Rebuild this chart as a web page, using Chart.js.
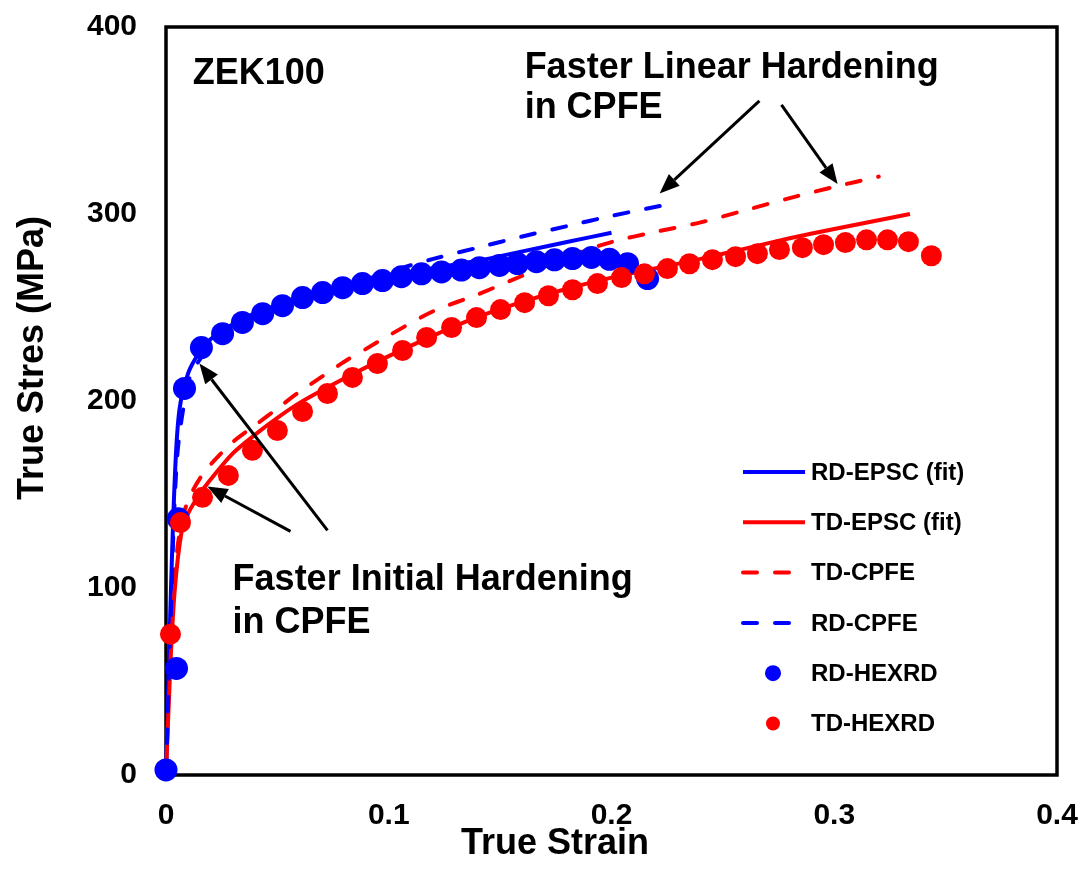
<!DOCTYPE html>
<html>
<head>
<meta charset="utf-8">
<script src="https://cdn.jsdelivr.net/npm/chart.js@4/dist/chart.umd.min.js"></script>
<style>
  body { margin: 0; background: #fff; }
  canvas { display: block; }
</style>
</head>
<body>
<canvas id="myChart" width="1084" height="887"></canvas>
<script>
const ctx = document.getElementById('myChart');

// HEXRD measurements
const rdHexrdStrain = [0, 0.0047, 0.0055, 0.0083, 0.0159, 0.0254, 0.0343, 0.0434, 0.0523, 0.0613, 0.0703, 0.0793, 0.0882, 0.0972, 0.1057, 0.1147, 0.1237, 0.1326, 0.1407, 0.1497, 0.1578, 0.1663, 0.1744, 0.1825, 0.191, 0.1991, 0.2072, 0.2162];
const rdHexrdStress = [2.7, 57, 137, 206.7, 228.6, 236, 242, 246.7, 251, 255.3, 258, 260.6, 262.8, 264.4, 266.5, 268, 269, 270, 271.3, 272.5, 273.5, 274.5, 275.5, 276.2, 276.8, 275.8, 273.4, 265.5];

const tdHexrdStrain = [0.002, 0.0065, 0.0164, 0.028, 0.0388, 0.05, 0.0613, 0.0725, 0.0837, 0.0949, 0.1062, 0.117, 0.1282, 0.1394, 0.1502, 0.161, 0.1717, 0.1825, 0.1937, 0.2045, 0.2148, 0.2251, 0.235, 0.2453, 0.2557, 0.2655, 0.2754, 0.2857, 0.2952, 0.305, 0.3145, 0.3239, 0.3333, 0.3436];
const tdHexrdStress = [75.3, 135, 148.5, 160.2, 173.6, 184.2, 194.4, 204, 212.6, 220, 227, 234, 239.3, 244.6, 248.9, 252.6, 256.3, 259.5, 262.8, 266, 268, 270.8, 273.4, 275.6, 277.2, 278.8, 281, 282, 283.6, 284.7, 286.2, 286.2, 285.2, 277.7];

// EPSC fits
const rdEpscStrain = [0, 0.002, 0.004, 0.006, 0.01, 0.015, 0.02, 0.03, 0.04, 0.05, 0.06, 0.08, 0.1, 0.12, 0.14, 0.16, 0.18, 0.2];
const rdEpscStress = [0, 90, 160, 195, 215, 226, 233, 241, 247, 251, 255, 261, 266, 271, 275, 280, 285, 290];

const tdEpscStrain = [0, 0.002, 0.004, 0.007, 0.01, 0.015, 0.02, 0.03, 0.04, 0.05, 0.06, 0.08, 0.1, 0.12, 0.14, 0.16, 0.18, 0.2, 0.22, 0.24, 0.26, 0.28, 0.3, 0.334];
const tdEpscStress = [0, 60, 100, 130, 140, 150, 158, 172, 182, 191, 199, 212, 224, 235, 245, 253, 260, 266, 271, 276, 281.5, 287, 292, 300];

// CPFE
const tdCpfeStrain = [0, 0.002, 0.005, 0.008, 0.012, 0.016, 0.02, 0.03, 0.04, 0.05, 0.06, 0.07, 0.08, 0.09, 0.1, 0.12, 0.14, 0.16, 0.18, 0.2, 0.22, 0.24, 0.26, 0.28, 0.3, 0.32];
const tdCpfeStress = [0, 70, 120, 140, 152, 160, 166, 178, 187, 196, 205, 213, 221, 228, 235, 248, 257, 267, 277, 285, 290.5, 295.5, 302, 308.5, 314.5, 320];

const rdCpfeStrain = [0, 0.002, 0.005, 0.01, 0.014, 0.02, 0.03, 0.04, 0.05, 0.06, 0.08, 0.1, 0.12, 0.14, 0.16, 0.18, 0.2, 0.229];
const rdCpfeStress = [0, 80, 170, 210, 220, 229, 238, 245, 250, 254, 261, 269, 276, 282, 288, 293.5, 299, 306];

const xTicks = [0, 0.1, 0.2, 0.3, 0.4];
const yTicks = [0, 100, 200, 300, 400];

// annotations in data units
const notes = [
  { text: 'ZEK100', x: 0.012, y: 375 },
  { text: 'Faster Linear Hardening', x: 0.161, y: 378 },
  { text: 'in CPFE', x: 0.161, y: 356.5 },
  { text: 'Faster Initial Hardening', x: 0.0299, y: 104 },
  { text: 'in CPFE', x: 0.0299, y: 81.5 }
];
const arrows = [
  { x0: 0.2664, y0: 360.5, x1: 0.2216, y1: 311 },
  { x0: 0.2763, y0: 358.3, x1: 0.3015, y1: 316 },
  { x0: 0.0725, y0: 130.8, x1: 0.015, y1: 220 },
  { x0: 0.0559, y0: 130.3, x1: 0.0186, y1: 154.3 }
];

const FONT = '"Liberation Sans", Arial, sans-serif';
const BLUE = '#0000ff';
const RED = '#ff0000';

function pts(xs, ys) {
  return xs.map((x, i) => ({ x: x, y: ys[i] }));
}

function lineSet(label, xs, ys, color, dashed, order) {
  return {
    label: label,
    data: pts(xs, ys),
    showLine: true,
    borderColor: color,
    backgroundColor: color,
    borderWidth: 4,
    borderDash: dashed ? [14, 18] : [],
    borderCapStyle: dashed ? 'round' : 'butt',
    pointRadius: 0,
    tension: 0.3,
    clip: false,
    order: order
  };
}

function dotSet(label, xs, ys, color, r, order) {
  return {
    label: label,
    data: pts(xs, ys),
    showLine: false,
    backgroundColor: color,
    borderColor: color,
    borderWidth: 0,
    pointRadius: r,
    pointHoverRadius: r,
    clip: false,
    order: order
  };
}

var data = {
  datasets: [
    lineSet('RD-EPSC (fit)', rdEpscStrain, rdEpscStress, BLUE, false, 5),
    lineSet('TD-EPSC (fit)', tdEpscStrain, tdEpscStress, RED, false, 4),
    lineSet('TD-CPFE', tdCpfeStrain, tdCpfeStress, RED, true, 3),
    lineSet('RD-CPFE', rdCpfeStrain, rdCpfeStress, BLUE, true, 2),
    dotSet('RD-HEXRD', rdHexrdStrain, rdHexrdStress, BLUE, 11.5, 1),
    dotSet('TD-HEXRD', tdHexrdStrain, tdHexrdStress, RED, 10.5, 0)
  ]
};

// plot box, drawn under the data like in the original
const boxPlugin = {
  id: 'box',
  beforeDatasetsDraw(chart) {
    const a = chart.chartArea;
    const c = chart.ctx;
    c.save();
    c.strokeStyle = '#000';
    c.lineWidth = 3.5;
    c.strokeRect(a.left, a.top, a.right - a.left, a.bottom - a.top);
    c.restore();
  }
};

function drawArrow(c, x0, y0, x1, y1) {
  const ang = Math.atan2(y1 - y0, x1 - x0);
  const len = 20, half = 8;
  const bx = x1 - len * Math.cos(ang), by = y1 - len * Math.sin(ang);
  c.beginPath();
  c.moveTo(x0, y0);
  c.lineTo(bx, by);
  c.stroke();
  c.beginPath();
  c.moveTo(x1, y1);
  c.lineTo(bx + half * Math.sin(ang), by - half * Math.cos(ang));
  c.lineTo(bx - half * Math.sin(ang), by + half * Math.cos(ang));
  c.closePath();
  c.fill();
}

// text notes, arrows, axis titles and the legend
const notesPlugin = {
  id: 'notes',
  afterDraw(chart) {
    const c = chart.ctx;
    const xs = chart.scales.x, ys = chart.scales.y;
    c.save();
    c.fillStyle = '#000';
    c.strokeStyle = '#000';
    c.lineWidth = 3;

    c.font = 'bold 36px ' + FONT;
    c.textAlign = 'left';
    c.textBaseline = 'middle';
    notes.forEach(n => {
      c.fillText(n.text, xs.getPixelForValue(n.x), ys.getPixelForValue(n.y));
    });

    arrows.forEach(a => {
      drawArrow(c, xs.getPixelForValue(a.x0), ys.getPixelForValue(a.y0),
                   xs.getPixelForValue(a.x1), ys.getPixelForValue(a.y1));
    });

    // axis titles
    c.textAlign = 'center';
    c.fillText('True Strain', 555, 844);
    c.save();
    c.translate(33, 358);
    c.rotate(-Math.PI / 2);
    c.fillText('True Stres (MPa)', 0, 0);
    c.restore();

    // legend
    const lx = 741, lw = 64, tx = 811, ly0 = 472, step = 50.3;
    c.font = 'bold 24px ' + FONT;
    c.textAlign = 'left';
    chart.data.datasets.forEach((ds, i) => {
      const y = ly0 + i * step;
      if (ds.showLine) {
        c.save();
        c.strokeStyle = ds.borderColor;
        c.lineWidth = 4;
        c.lineCap = ds.borderCapStyle;
        c.setLineDash(ds.borderDash);
        c.beginPath();
        c.moveTo(lx + 2, y);
        c.lineTo(lx + lw, y);
        c.stroke();
        c.restore();
      } else {
        c.beginPath();
        c.fillStyle = ds.backgroundColor;
        c.arc(lx + 32, y, ds.pointRadius > 11 ? 8 : 7, 0, Math.PI * 2);
        c.fill();
      }
      c.fillStyle = '#000';
      c.fillText(ds.label, tx, y + 1);
    });
    c.restore();
  }
};

// fixed axis sizes; drop the label overflow padding so the box lands where it should
function fixScale(size) {
  return s => {
    if (s.isHorizontal()) s.height = size; else s.width = size;
    s.paddingTop = 0; s.paddingBottom = 0; s.paddingLeft = 0; s.paddingRight = 0;
  };
}

var config = {
  type: 'scatter',
  data: data,
  options: {
    responsive: false,
    animation: false,
    layout: {
      padding: { left: 0, top: 27, right: 27, bottom: 0 }
    },
    plugins: {
      legend: { display: false },
      tooltip: { enabled: false }
    },
    scales: {
      x: {
        type: 'linear',
        min: 0,
        max: 0.4,
        afterFit: fixScale(112),
        afterBuildTicks: s => { s.ticks = xTicks.map(v => ({ value: v })); },
        grid: { display: false, drawTicks: false },
        border: { display: false },
        ticks: {
          padding: 23,
          color: '#000',
          font: { family: FONT, size: 30, weight: 'bold' },
          callback: v => String(+v.toFixed(1))
        }
      },
      y: {
        type: 'linear',
        min: 0,
        max: 400,
        afterFit: fixScale(166),
        afterBuildTicks: s => { s.ticks = yTicks.map(v => ({ value: v })); },
        grid: { display: false, drawTicks: false },
        border: { display: false },
        ticks: {
          padding: 29,
          color: '#000',
          font: { family: FONT, size: 30, weight: 'bold' },
          callback: v => String(v)
        }
      }
    }
  },
  plugins: [boxPlugin, notesPlugin]
};

var chart = new Chart(ctx, config);
</script>
</body>
</html>
